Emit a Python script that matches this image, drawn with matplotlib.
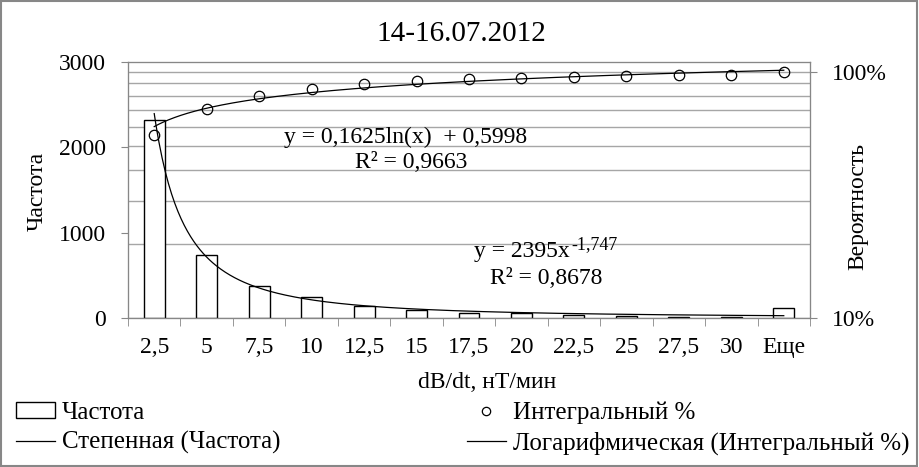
import numpy as np
import matplotlib.pyplot as plt
from matplotlib.ticker import FixedLocator, NullLocator, LogLocator, PercentFormatter
from matplotlib.patches import Rectangle, Patch
from matplotlib.lines import Line2D

plt.rcParams['font.family'] = ['Liberation Serif', 'DejaVu Serif']

# Данные
categories = ['2,5', '5', '7,5', '10', '12,5', '15', '17,5', '20',
              '22,5', '25', '27,5', '30', 'Еще']
frequency = [2317, 735, 371, 250, 144, 97, 55, 55, 39, 27, 12, 15, 114]
integral_pct = [55.5, 70.8, 79.5, 85.2, 89.0, 91.6, 93.3, 94.4,
                95.2, 96.2, 97.0, 97.5, 100.0]

# Линии тренда (коэффициенты из подписей на графике)
power_a, power_b = 2395, -1.747
log_a, log_b = 0.1625, 0.5998

W, H = 919, 467
GRAY = '#878787'
GRID = '#a6a6a6'
FS = 17


def fx(px):
    return px / W


def fy(py):
    return 1 - py / H


fig = plt.figure(figsize=(W / 100, H / 100), dpi=100)
rect = [fx(128), fy(318), fx(810) - fx(128), fy(62) - fy(318)]

# нижний слой: сетка по логарифмической оси
axg = fig.add_axes(rect)
ax1 = fig.add_axes(rect)
ax2 = fig.add_axes(rect)
for a in (axg, ax1, ax2):
    a.set_xlim(0.5, 13.5)
    for s in a.spines.values():
        s.set_color(GRAY)
ax1.patch.set_visible(False)
ax2.patch.set_visible(False)

ymax_right = 1.098
axg.set_yscale('log')
axg.set_ylim(0.1, ymax_right)
axg.yaxis.set_minor_locator(LogLocator(subs=np.arange(2, 10)))
axg.grid(which='both', axis='y', color=GRID, lw=1)
axg.tick_params(which='both', length=0, labelleft=False, labelbottom=False)

x = np.arange(1, len(categories) + 1)
xs = np.linspace(1, len(categories), 400)

# гистограмма частот
ax1.bar(x, frequency, width=0.4, color='white', edgecolor='black', lw=1)
ax1.plot(xs, power_a * xs ** power_b, color='black', lw=0.9)
ax1.set_ylim(0, 3000)
ax1.set_yticks([0, 1000, 2000, 3000])
ax1.set_xticks(x)
ax1.set_xticklabels(categories)
ax1.set_xticks(np.arange(0.5, len(categories) + 1, 1), minor=True)
ax1.tick_params(axis='y', direction='out', length=5, color=GRAY,
                labelsize=FS, pad=10.8)
ax1.tick_params(axis='x', which='major', length=0, labelsize=FS, pad=14)
ax1.tick_params(axis='x', which='minor', length=5.5, color=GRAY)

# интегральный процент
ax2.set_yscale('log')
ax2.set_ylim(0.1, ymax_right)
ax2.plot(x, np.array(integral_pct) / 100, 'o', mfc='none', mec='black',
         ms=7.5, mew=0.9)
ax2.plot(xs, log_a * np.log(xs) + log_b, color='black', lw=0.9)
ax2.yaxis.tick_right()
ax2.yaxis.set_major_locator(FixedLocator([0.1, 1.0]))
ax2.yaxis.set_minor_locator(NullLocator())
ax2.yaxis.set_major_formatter(PercentFormatter(1.0, decimals=0))
ax2.tick_params(axis='y', direction='out', length=5, color=GRAY,
                labelsize=FS, pad=10.8)
ax2.tick_params(axis='x', which='both', length=0, labelbottom=False)

# подписи
fig.text(fx(461), fy(34), '14-16.07.2012', fontsize=21, ha='center', va='center')
fig.text(fx(487), fy(382), 'dB/dt, нТ/мин', fontsize=FS, ha='center', va='center')
fig.text(fx(37), fy(191), 'Частота', fontsize=FS, rotation=90,
         ha='center', va='center')
fig.text(fx(858), fy(207), 'Вероятность', fontsize=FS, rotation=90,
         ha='center', va='center')

fig.text(fx(406), fy(137), 'y = 0,1625ln(x)  + 0,5998', fontsize=FS,
         ha='center', va='center')
fig.text(fx(411), fy(162), 'R² = 0,9663', fontsize=FS, ha='center', va='center')
t1 = fig.text(fx(474), fy(251), 'y = 2395x', fontsize=FS, ha='left', va='center')
sup = plt.Annotation('-1,747', xy=(1, 1), xycoords=t1,
                     xytext=(1, 3), textcoords='offset points',
                     fontsize=13, ha='left', va='top')
fig.add_artist(sup)
fig.text(fx(546), fy(279), 'R² = 0,8678', fontsize=FS, ha='center', va='center')

# легенда
handles = [
    Patch(facecolor='white', edgecolor='black', lw=1),
    Line2D([], [], color='black', lw=0.9),
    Line2D([], [], ls='none', marker='o', mfc='none', mec='black', ms=6, mew=0.9),
    Line2D([], [], color='black', lw=0.9),
]
labels = ['Частота', 'Степенная (Частота)', 'Интегральный %',
          'Логарифмическая (Интегральный %)']
fig.legend(handles, labels, loc='upper left', bbox_to_anchor=(fx(16), fy(401.5)),
           ncol=2, frameon=False, fontsize=18, borderpad=0, borderaxespad=0,
           handlelength=1.56, handletextpad=0.28, columnspacing=7.45,
           labelspacing=0.29, handleheight=0.6)

fig.patches.append(Rectangle((0.001, 0.002), 0.997, 0.996, transform=fig.transFigure,
                             fill=False, edgecolor=GRAY, lw=1.5))

fig.savefig('out.png', dpi=100)
